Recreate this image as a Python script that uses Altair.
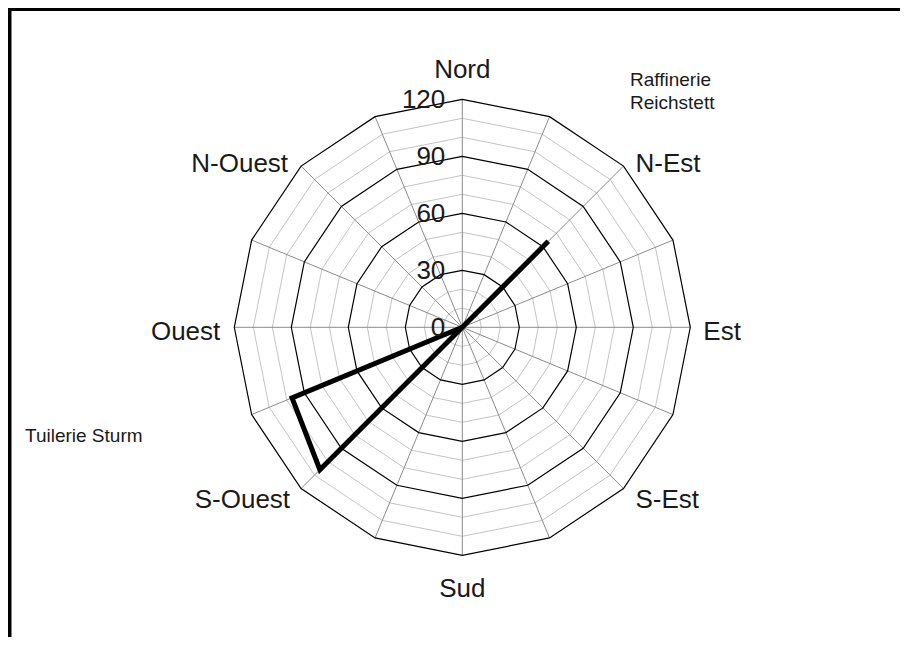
import math
import altair as alt
import pandas as pd

# ---------------- data ----------------
directions = ["Nord", "NNE", "N-Est", "ENE", "Est", "ESE", "S-Est", "SSE",
              "Sud", "SSO", "S-Ouest", "OSO", "Ouest", "ONO", "N-Ouest", "NNO"]
values = [0, 0, 64, 0, 0, 0, 0, 0, 0, 0, 106, 97, 0, 0, 0, 0]
ring_levels = [10, 20, 30, 40, 50, 60, 70, 80, 90, 100, 110, 120]
major_levels = [30, 60, 90, 120]
tick_values = [0, 30, 60, 90, 120]
tick_labels = ["0", "30", "60", "90", "120"]
r_max = 120
annot_lines = ["Raffinerie", "Reichstett"]
annot_2 = "Tuilerie Sturm"

# ---------------- layout ----------------
W, H = 892, 629
CX, CY = 454.3, 319.3        # centre in plot pixels
K = 1.9                      # pixels per unit
xdom = [-CX / K, (W - CX) / K]
ydom = [-(H - CY) / K, CY / K]
n = len(directions)

xs = alt.Scale(domain=xdom, nice=False, zero=False)
ys = alt.Scale(domain=ydom, nice=False, zero=False)
FONT = "Liberation Sans"

# ring polygons
ring_rows = []
for r in ring_levels:
    for i in range(n + 1):
        ring_rows.append({"ring": r, "i": i, "d": i % n, "major": r in major_levels})
rings = pd.DataFrame(ring_rows)

ang = f"datum.d * 2 * PI / {n}"

def base(df):
    return alt.Chart(df)

minor = base(rings[~rings.major]).transform_calculate(
    a=ang).transform_calculate(
    x="datum.ring * sin(datum.a)", y="datum.ring * cos(datum.a)"
).mark_line(color="#c4c4c4", strokeWidth=1).encode(
    x=alt.X("x:Q", scale=xs, axis=None),
    y=alt.Y("y:Q", scale=ys, axis=None),
    detail="ring:N", order="i:Q")

major = base(rings[rings.major]).transform_calculate(
    a=ang).transform_calculate(
    x="datum.ring * sin(datum.a)", y="datum.ring * cos(datum.a)"
).mark_line(color="#000000", strokeWidth=1.2).encode(
    x=alt.X("x:Q", scale=xs, axis=None),
    y=alt.Y("y:Q", scale=ys, axis=None),
    detail="ring:N", order="i:Q")

spk = pd.DataFrame({"d": list(range(n)), "r": [r_max] * n, "z": [0] * n})
spokes = base(spk).transform_calculate(a=ang).transform_calculate(
    x2="datum.r * sin(datum.a)", y2="datum.r * cos(datum.a)"
).mark_rule(color="#8a8a8a", strokeWidth=1).encode(
    x=alt.X("z:Q", scale=xs, axis=None),
    y=alt.Y("z:Q", scale=ys, axis=None),
    x2="x2:Q", y2="y2:Q")

ser = pd.DataFrame({"i": list(range(n + 1)),
                    "d": [i % n for i in range(n + 1)],
                    "v": [values[i % n] for i in range(n + 1)]})
series = base(ser).transform_calculate(a=ang).transform_calculate(
    x="datum.v * sin(datum.a)", y="datum.v * cos(datum.a)"
).mark_line(color="#000000", strokeWidth=5, strokeJoin="miter", strokeCap="butt").encode(
    x=alt.X("x:Q", scale=xs, axis=None),
    y=alt.Y("y:Q", scale=ys, axis=None),
    order="i:Q")

# direction labels (one layer per label for Excel-like placement)
placement = {
    "Nord": ("center", 0, -21),
    "N-Est": ("left", 12, 6),
    "Est": ("left", 13, 13),
    "S-Est": ("left", 12, 19),
    "Sud": ("center", 0, 42),
    "S-Ouest": ("right", -11, 19),
    "Ouest": ("right", -14, 13),
    "N-Ouest": ("right", -13, 6),
}
label_layers = []
for d, name in enumerate(directions):
    if name not in placement:
        continue
    al, dx, dy = placement[name]
    df = pd.DataFrame({"d": [d], "r": [r_max], "t": [name]})
    label_layers.append(
        base(df).transform_calculate(a=ang).transform_calculate(
            x="datum.r * sin(datum.a)", y="datum.r * cos(datum.a)"
        ).mark_text(align=al, baseline="alphabetic", dx=dx, dy=dy,
                    font=FONT, fontSize=26, color="#1a1a1a").encode(
            x=alt.X("x:Q", scale=xs, axis=None),
            y=alt.Y("y:Q", scale=ys, axis=None),
            text="t:N"))

tk = pd.DataFrame({"v": tick_values, "t": tick_labels, "z": [0] * len(tick_values)})
ticks = base(tk).mark_text(align="right", baseline="alphabetic", dx=-17, dy=9,
                           font=FONT, fontSize=26, color="#1a1a1a").encode(
    x=alt.X("z:Q", scale=xs, axis=None),
    y=alt.Y("v:Q", scale=ys, axis=None),
    text="t:N")

one = pd.DataFrame({"k": [0]})
annots = []
for j, line in enumerate(annot_lines):
    annots.append(base(pd.DataFrame({"t": [line]})).mark_text(
        align="left", baseline="alphabetic", font=FONT, fontSize=19, color="#1a1a1a"
    ).encode(x=alt.value(630 - 8), y=alt.value(86 - 8 + 23 * j), text="t:N"))
annots.append(base(pd.DataFrame({"t": [annot_2]})).mark_text(
    align="left", baseline="alphabetic", font=FONT, fontSize=19, color="#1a1a1a"
).encode(x=alt.value(25 - 8), y=alt.value(442 - 8), text="t:N"))

frame_top = base(one).mark_rule(color="#000000", strokeWidth=5).encode(
    x=alt.value(0), x2=alt.value(W), y=alt.value(0.5))
frame_left = base(one).mark_rule(color="#000000", strokeWidth=5).encode(
    x=alt.value(1), y=alt.value(0), y2=alt.value(H))

chart = alt.layer(minor, spokes, major, series, ticks, *label_layers, *annots,
                  frame_top, frame_left).properties(
    width=W, height=H, padding=0, autosize=alt.AutoSizeParams(type="none"),
    background="white"
).configure_view(stroke=None)

chart.save("out.html", embed_options={"renderer": "svg", "actions": False})
